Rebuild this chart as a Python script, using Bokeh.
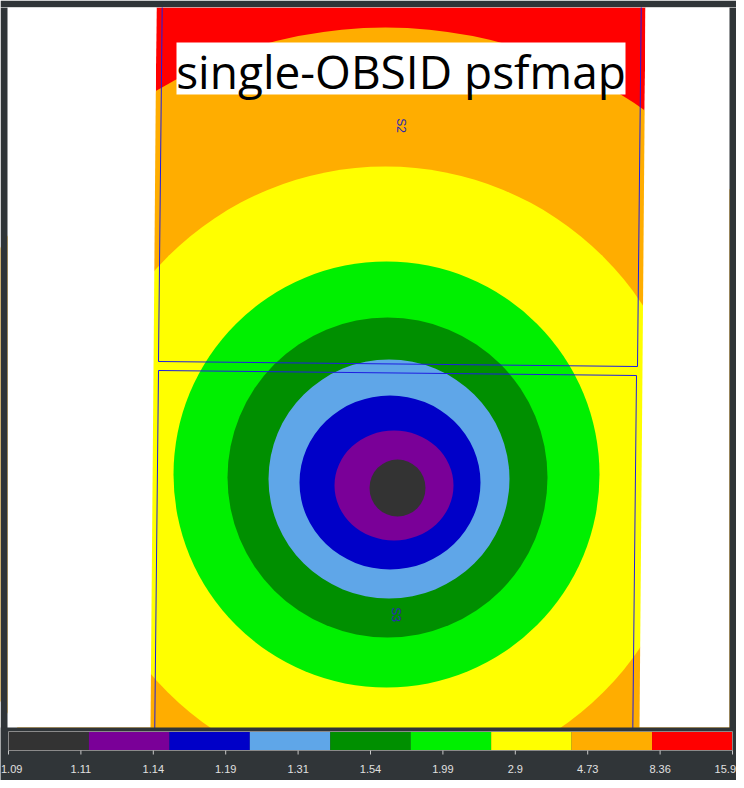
from bokeh.plotting import figure
from bokeh.models import Range1d
from bokeh.core.properties import value
from bokeh.embed import file_html
from bokeh.resources import INLINE

# ---- data ----
tick_labels = ["1.09", "1.11", "1.14", "1.19", "1.31", "1.54", "1.99", "2.9", "4.73", "8.36", "15.9"]
level_colors = ["#333333", "#7a0098", "#0000c8", "#5fa6e8", "#008f00", "#00f000",
                "#ffff00", "#ffad00", "#ff0000"]

# contour bands (outer to inner): colour, centre x, centre y, radius x, radius y (image pixels)
band_colors = ["#ffad00", "#ffff00", "#00f000", "#008f00", "#5fa6e8", "#0000c8", "#7a0098", "#333333"]
band_cx = [378, 378, 379, 380, 381.5, 382.5, 386.5, 390]
band_cy = [253, 253, 253, 250, 248.5, 245, 242, 239.5]
band_rx = [447, 308, 213, 160, 120.5, 90.5, 59.5, 28]
band_ry = [447, 308, 213, 160, 119.5, 87, 55, 28.5]

# exposure coverage polygon (outside is blank)
cover_x = [143, 149, 638, 632]
cover_y = [0, 720, 720, 0]

# chip outlines
s2_x = [151, 156, 635, 630]
s2_y = [366, 844, 839, 361]
s3_x = [151, 629, 624, 146]
s3_y = [357, 352, -126, -121]
chip_names = ["S2", "S3"]
chip_lx = [393, 388]
chip_ly = [602, 113]

title_text = "single-OBSID psfmap"

# ---- layout ----
IMG_W, IMG_H = 722, 720          # image display area
PAD_L, PAD_R, PAD_B = 7, 7, 53   # dark frame around image (bottom holds colour bar)
DARK = "#303538"
CB_L, CB_R, CB_TOP, CB_BOT = 1, 725, -4, -23

p = figure(width=736, height=780, output_backend="svg", toolbar_location=None,
           x_range=Range1d(-PAD_L, IMG_W + PAD_R), y_range=Range1d(-PAD_B, IMG_H),
           min_border_left=0, min_border_right=0, min_border_top=7, min_border_bottom=0)
p.background_fill_color = "white"
p.border_fill_color = DARK
p.outline_line_color = None
p.xaxis.visible = False
p.yaxis.visible = False
p.xgrid.visible = False
p.ygrid.visible = False

# red base over coverage
p.patch(cover_x, cover_y, fill_color=level_colors[-1], line_color=None)
# bands
p.ellipse(x=band_cx, y=band_cy, width=[2 * r for r in band_rx], height=[2 * r for r in band_ry],
          fill_color=band_colors, line_color=None)
# blank outside coverage
p.patch([0, cover_x[0], cover_x[1], 0], [0, cover_y[0], cover_y[1], IMG_H],
        fill_color="white", line_color=None)
p.patch([cover_x[3], IMG_W, IMG_W, cover_x[2]], [cover_y[3], 0, IMG_H, cover_y[2]],
        fill_color="white", line_color=None)

# chip outlines
p.patches([s2_x, s3_x], [s2_y, s3_y], fill_color=None, line_color="#1e1ee0", line_width=1)
p.text(x=chip_lx, y=chip_ly, text=chip_names, angle=-1.5708, text_align="center",
       text_baseline="middle", text_font_size="12px", text_color="#2a2ab0",
       text_font=value("Liberation Sans"))

# title box
p.quad(left=[169], right=[618], bottom=[633], top=[685], fill_color="white", line_color=None)
p.text(x=[393.5], y=[657], text=[title_text], text_align="center", text_baseline="middle",
       text_font=value("Open Sans"), text_font_size="46px", text_color="black")

# dark frame around the image
p.quad(left=[-PAD_L, IMG_W, -PAD_L], right=[0, IMG_W + PAD_R, IMG_W + PAD_R],
       bottom=[-PAD_B, -PAD_B, -PAD_B], top=[IMG_H, IMG_H, 0],
       fill_color=DARK, line_color=None)

# colour bar
n = len(level_colors)
seg = (CB_R - CB_L) / n
p.quad(left=[CB_L + i * seg for i in range(n)], right=[CB_L + (i + 1) * seg for i in range(n)],
       bottom=CB_BOT, top=CB_TOP, fill_color=level_colors, line_color=None)
p.quad(left=[CB_L], right=[CB_R], bottom=[CB_BOT], top=[CB_TOP], fill_color=None,
       line_color="#8a8a8a", line_width=1)
m = len(tick_labels)
step = (CB_R - CB_L) / (m - 1)
tx = [CB_L + j * step for j in range(m)]
p.segment(x0=tx, x1=tx, y0=CB_BOT, y1=CB_BOT - 4, line_color="#c8c8c8", line_width=1)
lab_style = dict(text_baseline="middle", text_font=value("Liberation Sans"),
                 text_font_size="11px", text_color="#e0e0e0")
p.text(x=tx[1:-1], y=-41, text=tick_labels[1:-1], text_align="center", **lab_style)
# end labels kept inside the frame
p.text(x=[-PAD_L + 0.5], y=-41, text=tick_labels[:1], text_align="left", **lab_style)
p.text(x=[IMG_W + PAD_R - 0.5], y=-41, text=tick_labels[-1:], text_align="right", **lab_style)

open("out.html", "w").write(file_html(p, INLINE))
